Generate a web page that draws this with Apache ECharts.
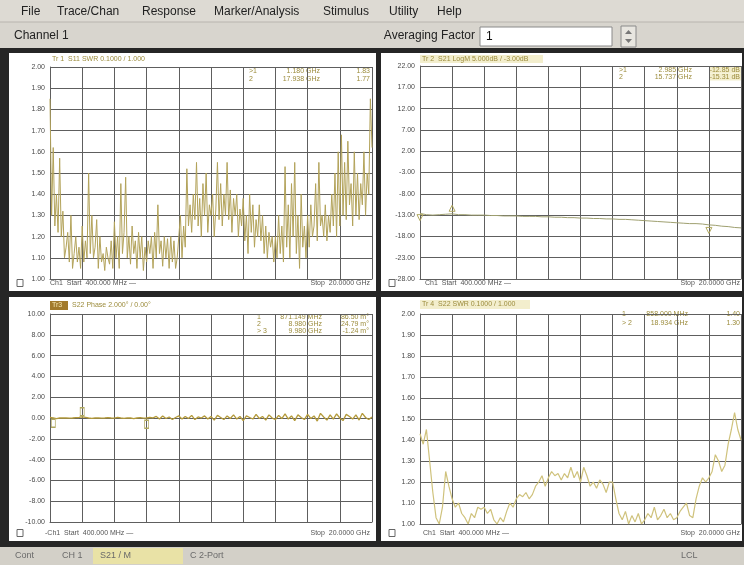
<!DOCTYPE html>
<html><head><meta charset="utf-8">
<script src="https://cdn.jsdelivr.net/npm/echarts@6/dist/echarts.min.js"></script>
<style>html,body{margin:0;padding:0;background:#d6d3cc;}#c{width:744px;height:565px;}</style>
</head><body><div id="c"></div>
<script>
// ---- data (frequency sweep 400 MHz .. 20 GHz) ----
const startMHz = 400, stopMHz = 20000;
const swrYTicks = ['2.00','1.90','1.80','1.70','1.60','1.50','1.40','1.30','1.20','1.10','1.00'];
// Tr1 S11 SWR (201 pts)
const s11Swr = [
1.85,1.30,1.62,1.25,1.40,1.22,1.57,1.20,1.32,1.10,1.15,1.22,1.08,1.30,1.05,1.12,1.20,1.08,1.15,1.05,
1.25,1.08,1.18,1.10,1.50,1.12,1.30,1.10,1.15,1.28,1.05,1.20,1.08,1.12,1.04,1.15,1.10,1.07,1.18,1.05,
1.27,1.10,1.20,1.05,1.45,1.12,1.22,1.48,1.10,1.20,1.07,1.25,1.12,1.18,1.05,1.22,1.10,1.20,1.04,1.15,
1.08,1.18,1.12,1.20,1.05,1.22,1.10,1.35,1.12,1.18,1.06,1.20,1.10,1.19,1.05,1.20,1.08,1.18,1.05,1.10,
1.20,1.30,1.10,1.25,1.15,1.52,1.25,1.35,1.22,1.40,1.28,1.55,1.25,1.38,1.20,1.45,1.30,1.50,1.22,1.35,
1.30,1.40,1.20,1.33,1.55,1.28,1.45,1.25,1.40,1.30,1.55,1.28,1.42,1.22,1.38,1.30,1.40,1.20,1.33,1.25,
1.38,1.18,1.30,1.12,1.40,1.22,1.35,1.15,1.28,1.20,1.35,1.18,1.30,1.12,1.25,1.10,1.22,1.15,1.20,1.08,
1.20,1.10,1.30,1.12,1.25,1.08,1.53,1.15,1.35,1.10,1.45,1.20,1.55,1.12,1.30,1.05,1.40,1.15,1.25,1.10,
1.30,1.15,1.35,1.20,1.25,1.45,1.18,1.55,1.25,1.30,1.20,1.35,1.18,1.30,1.22,1.40,1.25,1.50,1.20,1.60,
1.25,1.68,1.30,1.55,1.28,1.65,1.35,1.45,1.25,1.60,1.30,1.50,1.28,1.45,1.35,1.60,1.30,1.50,1.40,1.85,1.62];
// Tr2 S21 LogM dB (51 pts)
const s21LogM = [
-12.6,-12.9,-13.0,-12.9,-12.8,-12.7,-12.9,-12.9,-13.0,-13.0,
-13.0,-13.1,-13.1,-13.2,-13.2,-13.2,-13.3,-13.3,-13.3,-13.4,
-13.4,-13.5,-13.5,-13.6,-13.6,-13.7,-13.7,-13.8,-13.8,-13.9,
-13.9,-14.0,-14.0,-14.1,-14.2,-14.3,-14.4,-14.5,-14.6,-14.7,
-14.8,-14.9,-15.0,-15.0,-15.1,-15.3,-15.4,-15.6,-15.7,-15.9,-16.0];
const logmYTicks = ['22.00','17.00','12.00','7.00','2.00','-3.00','-8.00','-13.00','-18.00','-23.00','-28.00'];
// Tr3 S22 Phase deg (101 pts)
const s22Phase = [
0.05,0.00,-0.05,0.00,0.02,0.00,-0.02,0.00,0.03,0.05,0.10,0.05,0.00,-0.03,0.00,0.02,-0.02,0.00,0.03,0.00,
-0.02,0.05,0.00,-0.03,0.02,0.00,-0.05,0.00,0.03,-0.02,0.00,0.05,0.02,
0.15,-0.10,0.20,-0.05,0.10,-0.15,0.05,0.20,-0.10,0.15,-0.05,0.25,-0.15,0.10,0.00,0.20,-0.10,0.15,-0.20,0.25,
0.05,-0.15,0.20,-0.05,0.30,-0.10,0.15,-0.25,0.20,0.05,-0.10,0.35,-0.05,0.15,-0.20,0.30,0.00,-0.15,0.25,-0.05,
0.40,-0.10,0.20,-0.25,0.30,0.05,-0.15,0.35,-0.05,0.20,-0.30,0.45,0.10,-0.20,0.30,-0.10,0.40,0.00,-0.25,0.35,
0.15,-0.10,0.30,-0.20,0.45,0.05,-0.15,0.10];
const phaseYTicks = ['10.00','8.00','6.00','4.00','2.00','0.00','-2.00','-4.00','-6.00','-8.00','-10.00'];
// Tr4 S22 SWR (101 pts)
const s22Swr = [
1.43,1.38,1.45,1.30,1.15,1.03,1.00,1.08,1.25,1.18,
1.12,1.08,1.10,1.05,1.03,1.00,1.05,1.03,1.08,1.07,
1.08,1.05,1.07,1.02,1.00,1.03,1.01,1.06,1.10,1.08,
1.12,1.14,1.13,1.15,1.12,1.14,1.18,1.20,1.23,1.18,
1.22,1.25,1.23,1.24,1.21,1.24,1.22,1.27,1.22,1.25,
1.20,1.27,1.23,1.18,1.20,1.17,1.21,1.19,1.15,1.20,
1.20,1.12,1.05,1.02,1.06,1.00,1.04,1.01,1.05,1.00,
1.02,1.05,1.03,1.08,1.02,1.04,1.07,1.03,1.05,1.02,
1.03,1.06,1.08,1.10,1.04,1.03,1.12,1.18,1.22,1.20,
1.22,1.25,1.33,1.30,1.25,1.28,1.38,1.45,1.53,1.45,1.40];

// ---- helpers ----
function sweep(vals){ const n=vals.length; return vals.map((v,i)=>[startMHz+i*(stopMHz-startMHz)/(n-1), v]); }
const GRID_C = '#5e5e5e';
function xAx(gi){ return {type:'value',gridIndex:gi,min:startMHz,max:stopMHz,interval:(stopMHz-startMHz)/10,
  axisLabel:{show:false},axisTick:{show:false},axisLine:{show:true,onZero:false,lineStyle:{color:GRID_C,width:1}},
  splitLine:{show:true,lineStyle:{color:GRID_C,width:1}}}; }
function yAx(gi,min,max,iv){ return {type:'value',gridIndex:gi,min:min,max:max,interval:iv,
  axisTick:{show:false},axisLine:{show:true,onZero:false,lineStyle:{color:GRID_C,width:1}},
  splitLine:{show:true,lineStyle:{color:GRID_C,width:1}},
  axisLabel:{fontSize:7,color:'#4a4a4a',margin:5,fontFamily:'Liberation Sans',formatter:v=>v.toFixed(2)}}; }

const FONT='Liberation Sans';
const g = [];
function rect(x,y,w,h,fill,stroke){ g.push({type:'rect',shape:{x,y,width:w,height:h},style:{fill:fill,stroke:stroke||null,lineWidth:1},silent:true}); }
function txt(x,y,t,size,color,align,extra){ g.push({type:'text',x:x,y:y,style:Object.assign({text:t,fontSize:size,fill:color,fontFamily:FONT,textAlign:align||'left',textVerticalAlign:'middle'},extra||{}),silent:true}); }

// window chrome
rect(0,0,744,22,'#dddad3');
rect(0,22,744,26,'#d8d5ce');
g.push({type:'line',shape:{x1:0,y1:22,x2:744,y2:22},style:{stroke:'#b8b5ae',lineWidth:1},silent:true});
const menu=[['File',21],['Trace/Chan',57],['Response',142],['Marker/Analysis',214],['Stimulus',323],['Utility',389],['Help',437]];
menu.forEach(m=>txt(m[1],12,m[0],12,'#222','left'));
txt(14,36,'Channel 1',12,'#222','left');
txt(475,36,'Averaging Factor',12,'#222','right');
rect(480,27,132,19,'#ffffff','#8a8a8a');
txt(486,36.5,'1',12,'#111','left');
rect(621,26,15,21,'#e8e6e0','#8a8a8a');
g.push({type:'polygon',shape:{points:[[625,34],[632,34],[628.5,30]]},style:{fill:'#777'},silent:true});
g.push({type:'polygon',shape:{points:[[625,39],[632,39],[628.5,43]]},style:{fill:'#777'},silent:true});
// dark frame
rect(0,48,744,499,'#262626');
// panels
rect(9,53,367,238,'#ffffff');
rect(381,53,361,238,'#ffffff');
rect(9,297,367,244,'#ffffff');
rect(381,297,361,244,'#ffffff');
// status bar
rect(0,547,744,18,'#d3d0c8');
rect(93,548,90,16,'#e9e2a6');
txt(15,556,'Cont',9,'#6a6a6a');
txt(62,556,'CH 1',9,'#6a6a6a');
txt(100,556,'S21 / M',9,'#6a6a6a');
txt(190,556,'C 2-Port',9,'#6a6a6a');
txt(681,556,'LCL',9,'#6a6a6a');

const OL='#9c8c3c';
// panel titles
txt(52,59,'Tr 1  S11 SWR 0.1000 / 1.000',7,OL);
rect(420,55,123,8,'#f3eecd');
txt(422,59,'Tr 2  S21 LogM 5.000dB / -3.00dB',7,OL);
rect(50,301,18,9,'#a27a2c');
txt(52,305.5,'Tr3',7,'#f5e6b0');
txt(72,305.5,'S22 Phase 2.000\u00b0 / 0.00\u00b0',7,OL);
rect(420,300,110,9,'#f3eecd');
txt(422,304.5,'Tr 4  S22 SWR 0.1000 / 1.000',7,OL);
// marker readouts
function readout(rows,x1,x2,x3,y0,dy,hl){
  rows.forEach((r,i)=>{ const y=y0+i*dy;
    if(hl){ rect(x3-30,y-3.5,31,7,'#f3eecd'); }
    txt(x1,y,r[0],7,OL,'left'); txt(x2,y,r[1],7,OL,'right'); txt(x3,y,r[2],7,OL,'right'); });
}
readout([['>1','1.180 GHz','1.83'],['2','17.938 GHz','1.77']],249,320,370,71,8);
readout([['>1','2.985 GHz','-12.85 dB'],['2','15.737 GHz','-15.31 dB']],619,692,740,70,7,true);
readout([['1','871.149 MHz','86.50 m\u00b0'],['2','8.980 GHz','24.79 m\u00b0'],['> 3','9.980 GHz','-1.24 m\u00b0']],257,322,369,317,7);
readout([['1','858.000 MHz','1.40'],['> 2','18.934 GHz','1.30']],622,688,740,314,9);
// footers
function footer(xi,xs,xe,y,dash){
  rect(xi,y-3.5,6,7,'#ffffff','#666');
  txt(xs,y,(dash?'-':'')+'Ch1  Start  400.000 MHz \u2014',7,'#555','left');
  txt(xe,y,'Stop  20.0000 GHz',7,'#555','right');
}
footer(17,50,370,283,false);
footer(389,425,740,283,false);
footer(17,45,370,533,true);
footer(389,423,740,533,false);

const grids=[
  {left:50,top:67,width:322,height:212},
  {left:420,top:66,width:321,height:213},
  {left:50,top:314,width:322,height:208},
  {left:420,top:314,width:321,height:210}];

const lineS=(gi,data,color,w)=>({type:'line',xAxisIndex:gi,yAxisIndex:gi,data:data,showSymbol:false,symbol:'none',
  lineStyle:{color:color,width:w},animation:false});

const s2=lineS(1,sweep(s21LogM),'#9fa070',1);
s2.markPoint={symbol:'triangle',symbolSize:6,silent:true,label:{show:false},
  data:[{coord:[400,-13.6],symbolRotate:180,itemStyle:{color:'none',borderColor:'#b0a860',borderWidth:1}},
        {coord:[2360,-11.4],itemStyle:{color:'none',borderColor:'#b0a860',borderWidth:1}},
        {coord:[18040,-16.6],symbolRotate:180,itemStyle:{color:'none',borderColor:'#b0a860',borderWidth:1}}]};
const s3=lineS(2,sweep(s22Phase),'#b49a3a',1.3);
s3.markPoint={symbol:'rect',symbolSize:[4,8],silent:true,label:{show:false},
  data:[{coord:[600,-0.5],itemStyle:{color:'none',borderColor:'#b0a860',borderWidth:1}},
        {coord:[2360,0.6],itemStyle:{color:'none',borderColor:'#b0a860',borderWidth:1}},
        {coord:[6280,-0.6],itemStyle:{color:'none',borderColor:'#b0a860',borderWidth:1}}]};

const option={
  animation:false,
  backgroundColor:'#d6d3cc',
  graphic:{elements:g},
  grid:grids,
  xAxis:[xAx(0),xAx(1),xAx(2),xAx(3)],
  yAxis:[yAx(0,1,2,0.1),yAx(1,-28,22,5),yAx(2,-10,10,2),yAx(3,1,2,0.1)],
  series:[lineS(0,sweep(s11Swr),'#b3a35a',1), s2, s3, lineS(3,sweep(s22Swr),'#cfc27c',1.2)]
};
const chart=echarts.init(document.getElementById('c'),null,{renderer:'canvas'});
chart.setOption(option);
</script></body></html>
